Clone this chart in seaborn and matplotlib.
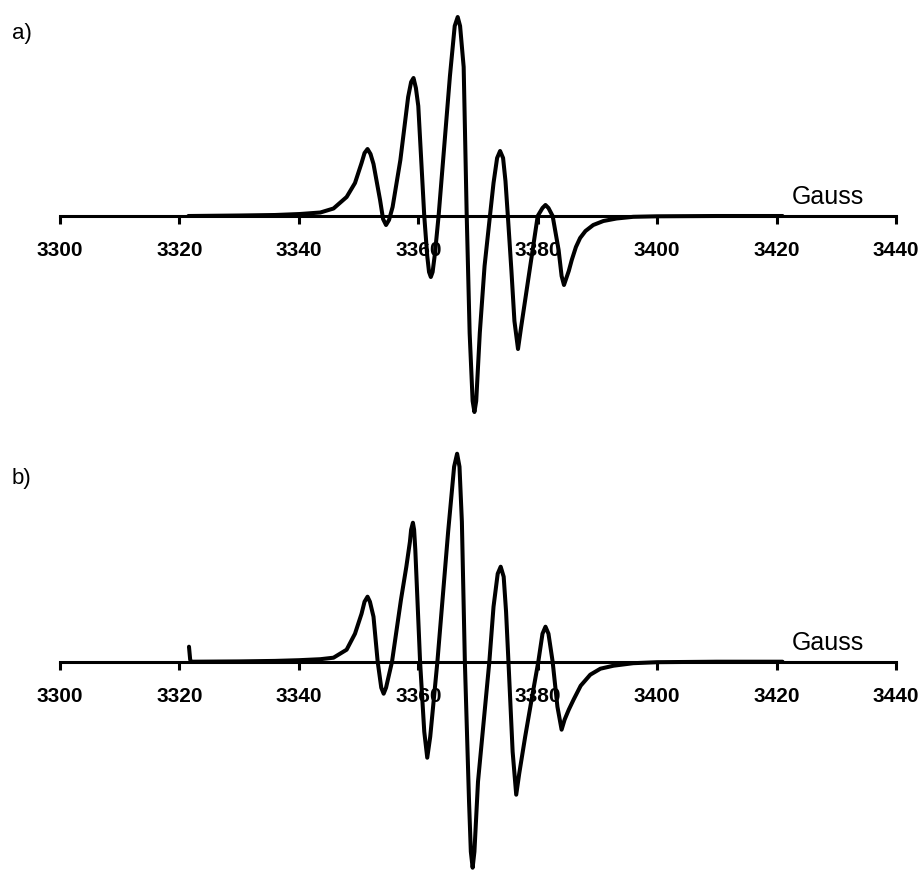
import pandas as pd
import matplotlib
matplotlib.use('Agg')
import matplotlib.pyplot as plt
import seaborn as sns

# field (Gauss) and signal values
field_a = [3321.5, 3330.0, 3336.0, 3340.2, 3343.6, 3345.8, 3348.0, 3349.4, 3350.5, 3351.0,
           3351.5, 3352.0, 3352.5, 3353.6, 3354.1, 3354.6, 3355.1, 3355.7, 3357.0, 3358.3,
           3358.8, 3359.2, 3359.6, 3360.0, 3361.0, 3361.5, 3361.8, 3362.1, 3362.4, 3362.8,
           3363.4, 3365.3, 3366.1, 3366.6, 3367.0, 3367.6, 3368.1, 3368.6, 3369.1, 3369.4,
           3369.7, 3370.3, 3371.1, 3372.0, 3372.6, 3373.2, 3373.7, 3374.2, 3374.6, 3375.0,
           3375.6, 3376.1, 3376.7, 3377.2, 3377.9, 3379.0, 3380.0, 3380.8, 3381.3, 3381.8,
           3382.5, 3383.5, 3384.0, 3384.4, 3384.8, 3385.2, 3385.7, 3386.4, 3387.1, 3388.0,
           3389.3, 3391.0, 3393.2, 3396.0, 3400.0, 3410.0, 3421.0]
signal_a = [0, 0.5, 1, 2, 3.5, 7.5, 19, 33, 53, 63,
            67, 62, 52, 16, -3, -9, -4, 9, 56, 119,
            134, 138, 128, 110, 0, -40, -56, -61, -56, -37,
            0, 140, 190, 199, 190, 149, 3, -117, -185, -196,
            -185, -117, -50, 0, 33, 58, 65, 58, 35, 0,
            -55, -105, -133, -112, -84, -40, 0, 8, 11, 8,
            0, -34, -60, -69, -62, -55, -44, -31, -22, -15,
            -9, -5, -2.5, -0.8, -0.3, 0, 0]

field_b = [3321.6, 3321.8, 3322.0, 3330.0, 3336.0, 3340.0, 3343.6, 3345.8, 3348.0, 3349.4,
           3350.5, 3351.0, 3351.5, 3351.9, 3352.5, 3353.2, 3353.8, 3354.2, 3354.6, 3355.6,
           3357.1, 3358.0, 3358.6, 3358.8, 3359.1, 3359.3, 3359.5, 3360.3, 3361.0, 3361.5,
           3362.0, 3363.2, 3365.0, 3366.0, 3366.5, 3366.9, 3367.3, 3367.8, 3368.5, 3368.8,
           3369.1, 3369.4, 3370.0, 3371.9, 3372.6, 3373.3, 3373.8, 3374.3, 3374.7, 3375.1,
           3375.8, 3376.4, 3376.9, 3377.9, 3379.0, 3380.1, 3380.8, 3381.3, 3381.8, 3382.5,
           3383.3, 3384.0, 3384.5, 3385.2, 3386.0, 3387.2, 3388.8, 3390.5, 3392.7, 3396.0,
           3400.0, 3410.0, 3421.0]
signal_b = [15, 2, 0, 0.3, 0.8, 1.5, 2.5, 4, 12, 28,
            48, 60, 65, 60, 45, 0, -26, -32, -26, 0,
            62, 95, 120, 132, 139, 132, 112, 0, -70, -96,
            -75, 0, 130, 195, 208, 195, 140, 0, -140, -190,
            -206, -190, -120, 0, 55, 88, 95, 85, 50, 0,
            -90, -133, -112, -75, -37, 0, 28, 35, 28, 0,
            -45, -68, -58, -48, -38, -24, -13, -7, -4, -1.5,
            -0.5, 0, 0]

xticks = [3300, 3320, 3340, 3360, 3380, 3400, 3420, 3440]
panel_labels = ['a)', 'b)']
axis_label = 'Gauss'

sns.set_style('white')
plt.rcParams['font.family'] = ['Liberation Sans', 'DejaVu Sans']

fig = plt.figure(figsize=(9.22, 8.72), dpi=100)
# axes boxes placed to match the original pixel layout
ax_a = fig.add_axes([60 / 922, 1 - 440 / 872, 836 / 922, 440 / 872])
ax_b = fig.add_axes([60 / 922, 0, 836 / 922, 432 / 872])

panels = [
    (ax_a, field_a, signal_a, (-224, 216)),
    (ax_b, field_b, signal_b, (-210.3, 221.7)),
]

for ax, field, signal, ylim in panels:
    df = pd.DataFrame({'field': field, 'signal': signal})
    sns.lineplot(data=df, x='field', y='signal', ax=ax, color='black', linewidth=2.9,
                 estimator=None, sort=False)
    for line in ax.lines:
        line.set_solid_joinstyle('round')
        line.set_solid_capstyle('round')
        line.set_clip_on(False)
    ax.set_xlim(3300, 3440)
    ax.set_ylim(*ylim)
    ax.patch.set_alpha(0)
    for side in ['top', 'right', 'left']:
        ax.spines[side].set_visible(False)
    ax.spines['bottom'].set_position(('data', 0))
    ax.spines['bottom'].set_linewidth(2.2)
    ax.spines['bottom'].set_color('black')
    ax.set_xticks(xticks)
    ax.set_xticklabels([str(t) for t in xticks], fontweight='bold', fontsize=15)
    ax.tick_params(axis='x', direction='out', length=6, width=2.2, pad=12, colors='black',
                   bottom=True)
    ax.set_yticks([])
    ax.set_xlabel('')
    ax.set_ylabel('')
    ax.text(3428.6, 19, axis_label, fontsize=18, ha='center', va='center', color='black')

fig.text(12 / 922, 1 - 34 / 872, panel_labels[0], fontsize=16, va='center', color='black')
fig.text(12 / 922, 1 - 478 / 872, panel_labels[1], fontsize=16, va='center', color='black')

plt.savefig('out.png', dpi=100)
plt.close()
